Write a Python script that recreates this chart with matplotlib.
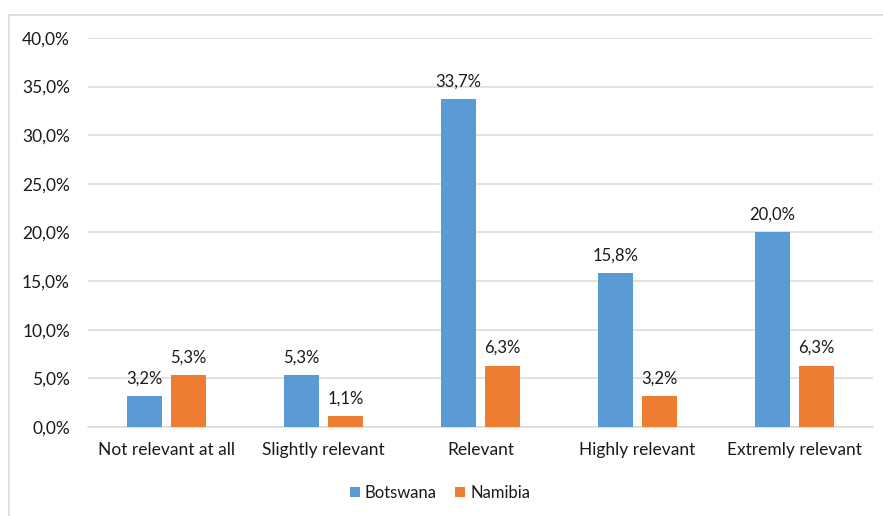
import matplotlib
matplotlib.use("Agg")
import matplotlib.pyplot as plt
import numpy as np
from matplotlib.lines import Line2D

plt.rcParams['font.family'] = ['Lato', 'DejaVu Sans']

categories = ["Not relevant at all", "Slightly relevant", "Relevant",
              "Highly relevant", "Extremly relevant"]
botswana = [3.2, 5.3, 33.7, 15.8, 20.0]
namibia = [5.3, 1.1, 6.3, 3.2, 6.3]
y_ticks = [0, 5, 10, 15, 20, 25, 30, 35, 40]

blue = "#5B9BD5"
orange = "#ED7D31"
text_color = "#1a1a1a"

W, H = 883, 516
fig = plt.figure(figsize=(W / 100, H / 100), dpi=100)

# outer chart frame (left and top edges visible)
fig.add_artist(Line2D([8.5 / W, 8.5 / W], [0, 1 - 14.5 / H], color="#d9d9d9", lw=1.2,
                      transform=fig.transFigure))
fig.add_artist(Line2D([8.5 / W, 1], [1 - 14.5 / H, 1 - 14.5 / H], color="#d9d9d9", lw=1.2,
                      transform=fig.transFigure))

left, right = 88 / W, 873 / W
bottom, top = 1 - 427 / H, 1 - 38 / H
ax = fig.add_axes([left, bottom, right - left, top - bottom])

x = np.arange(len(categories))
bw = 0.223
off = 0.14
b1 = ax.bar(x - off, botswana, bw, color=blue, label="Botswana", zorder=3)
b2 = ax.bar(x + off, namibia, bw, color=orange, label="Namibia", zorder=3)

for bars, vals in ((b1, botswana), (b2, namibia)):
    for r, v in zip(bars, vals):
        ax.text(r.get_x() + r.get_width() / 2, v + 1.0, f"{v:.1f}%".replace(".", ","),
                ha="center", va="bottom", fontsize=12, color=text_color)

ax.set_xlim(-0.5, len(categories) - 0.5)
ax.set_ylim(0, 40)
ax.set_yticks(y_ticks)
ax.set_yticklabels([f"{t:.1f}%".replace(".", ",") for t in y_ticks], fontsize=12.5,
                   color=text_color)
ax.set_xticks(x)
ax.set_xticklabels(categories, fontsize=12.5, color=text_color)
ax.tick_params(axis="both", length=0)
ax.tick_params(axis="y", pad=13)
ax.tick_params(axis="x", pad=11)
ax.grid(axis="y", color="#d9d9d9", lw=1.1, zorder=0)
for s in ("top", "right", "left"):
    ax.spines[s].set_visible(False)
ax.spines["bottom"].set_color("#d9d9d9")
ax.spines["bottom"].set_linewidth(1.1)

fig.legend(handles=[b1, b2], loc="center", bbox_to_anchor=(440 / W, 1 - 493 / H),
           ncol=2, frameon=False, fontsize=12, handlelength=0.6, handleheight=0.6,
           handletextpad=0.3, columnspacing=1.1, labelcolor=text_color)

fig.savefig("out.png", dpi=100, facecolor="white")
